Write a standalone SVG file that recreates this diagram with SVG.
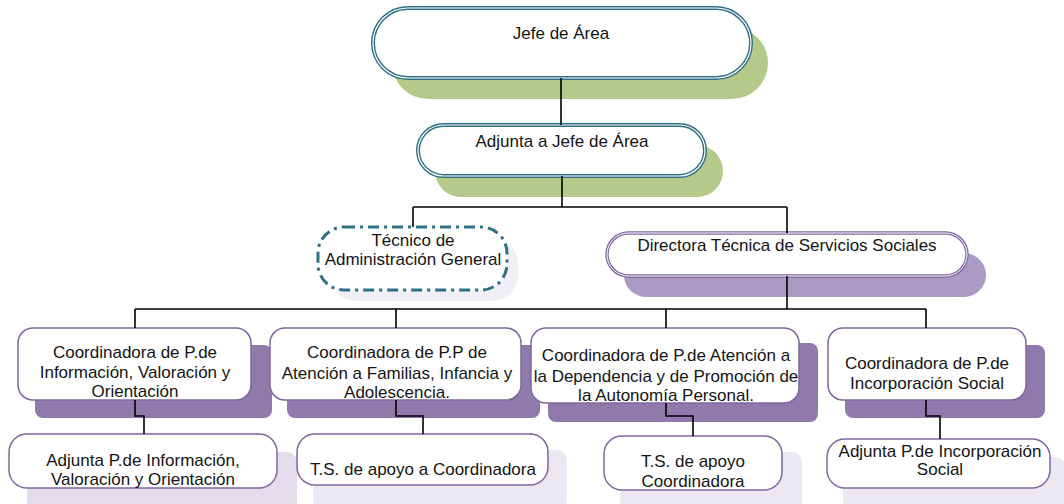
<svg xmlns="http://www.w3.org/2000/svg" width="1064" height="504" viewBox="0 0 1064 504">
<style>
text{font-family:"Liberation Sans",Arial,sans-serif;font-size:17px;fill:#141414;text-anchor:middle}
.tealO{fill:#fff;stroke:#2f6f85;stroke-width:4}
.tealI{fill:none;stroke:#fff;stroke-width:1.2}
.purO{fill:#fff;stroke:#7f66a0;stroke-width:3.4}
.purI{fill:none;stroke:#fff;stroke-width:1}
.coord{fill:#fff;stroke:#7f66a0;stroke-width:1.5}
.dash{fill:#fff;stroke:#2f6f85;stroke-width:3;stroke-dasharray:11 5 3 5}
.shG{fill:#b4c98a}
.shP{fill:#a99bc3}
.shD{fill:#8f7aab}
.shL{fill:#e3ddeb}
.shV{fill:#ece8f2}
.shT{fill:#f1eff5}
.conn{fill:none;stroke:#000;stroke-width:1.6}
</style>
<g id="jefe">
<rect class="shG" x="392" y="27" width="376" height="72" rx="36"/>
<rect class="tealO" x="373" y="8" width="378" height="70" rx="35"/>
<rect class="tealI" x="373" y="8" width="378" height="70" rx="35"/>
<text x="561" y="39">Jefe de Área</text>
</g>
<g id="adjunta">
<rect class="shG" x="435" y="145" width="288" height="52" rx="26"/>
<rect class="tealO" x="418" y="125" width="287" height="51" rx="25.5"/>
<rect class="tealI" x="418" y="125" width="287" height="51" rx="25.5"/>
<text x="562" y="147">Adjunta a Jefe de Área</text>
</g>
<g id="tecnico">
<rect class="shT" x="330" y="238" width="188" height="63" rx="26"/>
<rect class="dash" x="318" y="227" width="189" height="63" rx="26"/>
<text x="413" y="246">Técnico de</text>
<text x="413" y="265">Administración General</text>
</g>
<g id="directora">
<rect class="shP" x="624" y="253" width="362" height="44" rx="22"/>
<rect class="purO" x="607" y="233" width="360" height="43" rx="21.5"/>
<rect class="purI" x="607" y="233" width="360" height="43" rx="21.5"/>
<text x="787" y="251">Directora Técnica de Servicios Sociales</text>
</g>
<g id="coordA">
<rect class="shD" x="35" y="345" width="237" height="73" rx="8"/>
<rect class="coord" x="18" y="328" width="233" height="72" rx="15"/>
<text x="135" y="358">Coordinadora de P.de</text>
<text x="135" y="378">Información, Valoración y</text>
<text x="135" y="397">Orientación</text>
</g>
<g id="coordB">
<rect class="shD" x="287" y="345" width="253" height="73" rx="8"/>
<rect class="coord" x="270" y="328" width="251" height="72" rx="15"/>
<text x="397" y="358">Coordinadora de P.P de</text>
<text x="397" y="379">Atención a Familias, Infancia y</text>
<text x="397" y="398">Adolescencia.</text>
</g>
<g id="coordC">
<rect class="shD" x="548" y="343" width="270" height="79" rx="8"/>
<rect class="coord" x="531" y="328" width="268" height="75" rx="15"/>
<text x="666" y="361">Coordinadora de P.de Atención a</text>
<text x="666" y="382">la Dependencia y de Promoción de</text>
<text x="666" y="401">la Autonomía Personal.</text>
</g>
<g id="coordD">
<rect class="shD" x="845" y="345" width="200" height="73" rx="8"/>
<rect class="coord" x="828" y="328" width="198" height="72" rx="15"/>
<text x="927" y="369">Coordinadora de P.de</text>
<text x="927" y="389">Incorporación Social</text>
</g>
<g id="adjA">
<rect class="shL" x="27" y="452" width="270" height="60" rx="10"/>
<rect class="coord" x="9" y="434" width="268" height="54" rx="18"/>
<text x="143" y="466">Adjunta P.de Información,</text>
<text x="143" y="485">Valoración y Orientación</text>
</g>
<g id="tsB">
<rect class="shV" x="313" y="450" width="254" height="60" rx="10"/>
<rect class="coord" x="297" y="434" width="251" height="51" rx="18"/>
<text x="423" y="475">T.S. de apoyo a Coordinadora</text>
</g>
<g id="tsC">
<rect class="shV" x="620" y="452" width="182" height="60" rx="10"/>
<rect class="coord" x="604" y="436" width="178" height="54" rx="18"/>
<text x="693" y="467">T.S. de apoyo</text>
<text x="693" y="487">Coordinadora</text>
</g>
<g id="adjD">
<rect class="shV" x="843" y="457" width="222" height="60" rx="10"/>
<rect class="coord" x="827" y="439" width="223" height="49" rx="18"/>
<text x="940" y="457">Adjunta P.de Incorporación</text>
<text x="940" y="475">Social</text>
</g>
<g id="connectors" class="conn">
<path d="M561 78V125"/>
<path d="M562 176V207"/>
<path d="M413 207H787"/>
<path d="M413 207V227"/>
<path d="M787 207V233"/>
<path d="M787 276V309"/>
<path d="M135 309H926"/>
<path d="M135 309V328M396 309V328M666 309V328M926 309V328"/>
<path d="M135 400V416H144V434"/>
<path d="M396 400V416H423V434"/>
<path d="M666 403V416H693V436"/>
<path d="M926 400V416H940V439"/>
</g>
</svg>
